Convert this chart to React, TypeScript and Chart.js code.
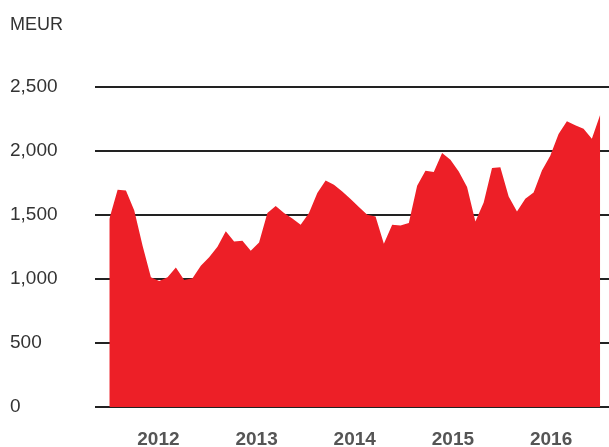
import React, { useEffect, useRef } from "react";
import { Chart, registerables } from "chart.js";

Chart.register(...registerables);

// Monthly values, MEUR
const values: number[] = [
  1466, 1695, 1690, 1534, 1258, 1013, 984, 1013, 1088, 990,
  1005, 1102, 1169, 1250, 1372, 1292, 1297, 1219, 1284, 1513,
  1568, 1513, 1471, 1422, 1513, 1669, 1768, 1734, 1682, 1622,
  1560, 1500, 1487, 1273, 1422, 1417, 1435, 1727, 1844, 1833,
  1982, 1930, 1838, 1716, 1448, 1596, 1865, 1870, 1643, 1526,
  1625, 1674, 1846, 1961, 2130, 2229, 2198, 2172, 2094, 2281,
];

const yearLabels: string[] = ["2012", "2013", "2014", "2015", "2016"];
const yearTickPositions: number[] = [5.9, 17.7, 29.5, 41.3, 53.1];
const yTicks: number[] = [0, 500, 1000, 1500, 2000, 2500];

const FONT = "'Liberation Sans', Arial, Helvetica, sans-serif";

export default function App() {
  const ref = useRef<HTMLCanvasElement | null>(null);

  useEffect(() => {
    if (!ref.current) return;
    const chart = new Chart(ref.current, {
      type: "line",
      data: {
        datasets: [
          {
            data: values.map((v, i) => ({ x: i, y: v })),
            fill: "origin",
            backgroundColor: "#ED1F27",
            borderColor: "#ED1F27",
            borderWidth: 0,
            pointRadius: 0,
            tension: 0,
          },
        ],
      },
      options: {
        animation: false,
        responsive: false,
        maintainAspectRatio: false,
        layout: { padding: { left: 10, right: 0, top: 0, bottom: 0 } },
        plugins: {
          legend: { display: false },
          tooltip: { enabled: false },
          title: {
            display: true,
            text: "MEUR",
            align: "start",
            color: "#333333",
            font: { family: FONT, size: 18, weight: "normal" },
            padding: { top: 14, bottom: 51 },
          },
        },
        scales: {
          x: {
            type: "linear",
            min: -1.72,
            max: 60.06,
            grid: { display: false },
            border: { display: false },
            afterBuildTicks: (scale: any) => {
              scale.ticks = yearTickPositions.map((v) => ({ value: v }));
            },
            afterFit: (scale: any) => {
              scale.height = 40;
            },
            ticks: {
              autoSkip: false,
              maxRotation: 0,
              padding: 13,
              color: "#555555",
              font: { family: FONT, size: 19, weight: "bold" },
              callback: (val: any) => {
                const idx = yearTickPositions.indexOf(Number(val));
                return idx >= 0 ? yearLabels[idx] : "";
              },
            },
          },
          y: {
            min: 0,
            max: 2500,
            afterBuildTicks: (scale: any) => {
              scale.ticks = yTicks.map((v) => ({ value: v }));
            },
            afterFit: (scale: any) => {
              scale.width = 85;
            },
            grid: {
              color: "#222222",
              lineWidth: 2,
              drawTicks: false,
            },
            border: { display: false },
            ticks: {
              crossAlign: "far",
              padding: 0,
              color: "#333333",
              font: { family: FONT, size: 19 },
              callback: (val: any) => Number(val).toLocaleString("en-US"),
            },
          },
        },
      },
    });
    return () => chart.destroy();
  }, []);

  return (
    <div style={{ position: "fixed", left: 0, top: 0, width: 609, height: 447, background: "#fff" }}>
      <canvas ref={ref} width={609} height={447} style={{ display: "block" }} />
    </div>
  );
}
